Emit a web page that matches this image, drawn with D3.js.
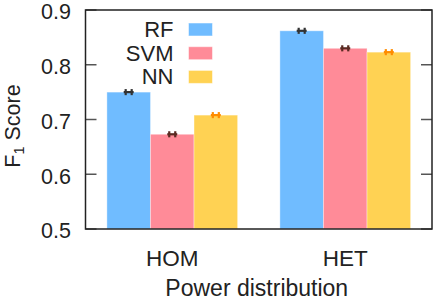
<!DOCTYPE html>
<html><head><meta charset="utf-8">
<script src="https://cdn.jsdelivr.net/npm/d3@7"></script>
<style>body{margin:0;background:#fff}svg{display:block;font-family:"Liberation Sans",Arial,sans-serif}</style>
</head><body>
<svg id="c" width="434" height="300"></svg>
<script>
const categories = ["HOM", "HET"];
const seriesNames = ["RF", "SVM", "NN"];
const rfValues = [0.750, 0.862];
const svmValues = [0.673, 0.830];
const nnValues = [0.708, 0.823];
const errValues = [[0.001, 0.001], [0.001, 0.001], [0.001, 0.001]];
const yTicks = [0.5, 0.6, 0.7, 0.8, 0.9];
const seriesValues = [rfValues, svmValues, nnValues];
const colors = ["#70bcff", "#ff8b98", "#ffd253"];
const errColors = ["#333333", "#5a2a22", "#ff8c00"];

const svg = d3.select("#c");
const L = 85.5, R = 432, T = 10, B = 229;
const y = d3.scaleLinear().domain([0.5, 0.9]).range([B, T]);
const x0 = d3.scaleBand().domain(categories).range([L, R]).paddingInner(0.2445).paddingOuter(0.1237);
const x1 = d3.scaleBand().domain(seriesNames).range([0, x0.bandwidth()]);

// bars
seriesNames.forEach((s, si) => {
  const g = svg.append("g");
  categories.forEach((c, ci) => {
    const v = seriesValues[si][ci];
    const bx = x0(c) + x1(s);
    g.append("rect").attr("x", bx).attr("y", y(v)).attr("width", x1.bandwidth()).attr("height", y(0.5) - y(v))
      .attr("fill", colors[si]).attr("stroke", "#ffffff").attr("stroke-opacity", 0.35).attr("stroke-width", 1);
    // error bar
    const cx = bx + x1.bandwidth() / 2, e = errValues[si][ci];
    const eg = svg.append("g").attr("stroke", errColors[si]).attr("stroke-width", 2.2);
    eg.append("line").attr("x1", cx - 5).attr("x2", cx + 5).attr("y1", y(v)).attr("y2", y(v));
    eg.append("line").attr("x1", cx - 3).attr("x2", cx - 3).attr("y1", y(v + e) - 2.5).attr("y2", y(v - e) + 2.5);
    eg.append("line").attr("x1", cx + 3).attr("x2", cx + 3).attr("y1", y(v + e) - 2.5).attr("y2", y(v - e) + 2.5);
  });
});

// ticks (inward, both sides)
const tg = svg.append("g").attr("stroke", "#555").attr("stroke-width", 1.5);
yTicks.forEach(t => {
  tg.append("line").attr("x1", L).attr("x2", L + 11).attr("y1", y(t)).attr("y2", y(t));
  tg.append("line").attr("x1", R - 11).attr("x2", R).attr("y1", y(t)).attr("y2", y(t));
});
// y tick labels
svg.append("g").selectAll("text").data(yTicks).join("text")
  .attr("x", 71).attr("y", d => y(d) + 9.3).attr("text-anchor", "end")
  .attr("font-size", 21.5).attr("fill", "#222").text(d => d3.format(".1f")(d));

// frame
svg.append("rect").attr("x", L).attr("y", T).attr("width", R - L).attr("height", B - T)
  .attr("fill", "none").attr("stroke", "#222").attr("stroke-width", 1.5);

// x labels
svg.append("g").selectAll("text").data(categories).join("text")
  .attr("x", d => x0(d) + x0.bandwidth() / 2).attr("y", 265.5).attr("text-anchor", "middle")
  .attr("font-size", 22.5).attr("fill", "#222").text(d => d);

svg.append("text").attr("x", (L + R) / 2 - 2).attr("y", 296).attr("text-anchor", "middle")
  .attr("font-size", 23).attr("fill", "#222").text("Power distribution");

// y label
const yl = svg.append("text").attr("transform", "translate(20," + 126 + ") rotate(-90)")
  .attr("text-anchor", "middle").attr("font-size", 21.5).attr("fill", "#222");
yl.append("tspan").text("F");
yl.append("tspan").attr("font-size", 14.5).attr("dy", 4).text("1");
yl.append("tspan").attr("dy", -4).text(" Score");

// legend
const lg = svg.append("g");
seriesNames.forEach((s, i) => {
  const cy = 29.5 + i * 23.7;
  lg.append("text").attr("x", 173.5).attr("y", cy + 7.5).attr("text-anchor", "end")
    .attr("font-size", 22).attr("fill", "#222").text(s);
  lg.append("rect").attr("x", 188.5).attr("y", cy - 6.5).attr("width", 24).attr("height", 13)
    .attr("fill", colors[i]).attr("stroke", "#ffffff").attr("stroke-opacity", 0.5).attr("stroke-width", 1);
});
</script>
</body></html>
